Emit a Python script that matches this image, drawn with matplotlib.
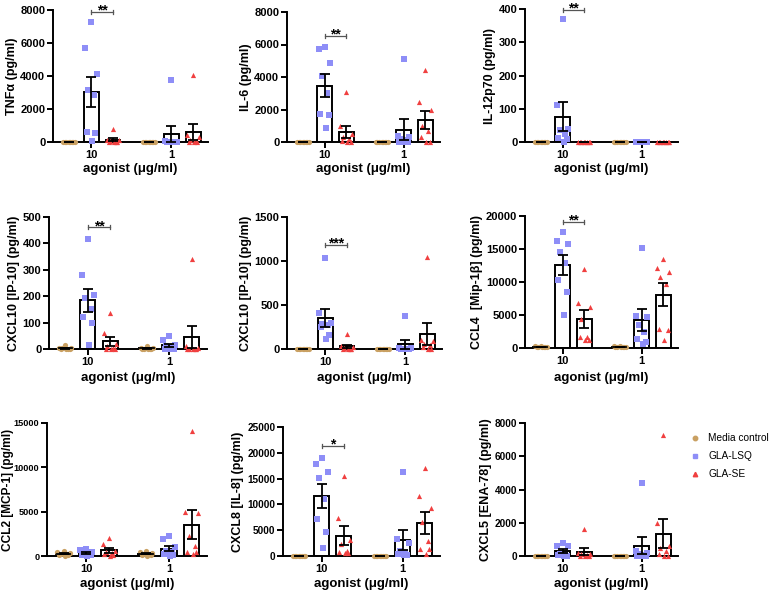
import numpy as np
import matplotlib
matplotlib.use("Agg")
import matplotlib.pyplot as plt

plt.rcParams['font.family'] = ['Liberation Sans', 'DejaVu Sans']

groups = ["Media control", "GLA-LSQ", "GLA-SE"]
doses = ["10", "1"]
colors = ["#C9A062", "#8E8EF7", "#F04040"]
markers = ["o", "s", "^"]

# values per panel: [media10, lsq10, se10, media1, lsq1, se1]
z8 = [0, 0, 0, 0, 0, 0, 0, 0]
tnfa = [z8,
        [7290, 5670, 4150, 3180, 2835, 610, 550, 40],
        [805, 150, 100, 50, 30, 0, 0, 0],
        z8,
        [3750, 50, 30, 0, 0, 0, 0, 0],
        [4050, 400, 300, 100, 50, 0, 0, 0]]
il6 = [z8,
       [5840, 5740, 4880, 4070, 3000, 1720, 1680, 840],
       [3080, 1000, 500, 300, 200, 50, 0, 0],
       z8,
       [5120, 400, 300, 200, 100, 0, 0, 0],
       [4430, 2480, 1950, 1000, 650, 300, 0, 0]]
il12 = [z8,
        [370, 112, 40, 35, 25, 12, 10, 0],
        z8, z8, z8, z8]
ip10a = [[15, 5, 3, 2, 0, 0, 0, 0],
         [415, 280, 205, 195, 150, 120, 100, 15],
         [135, 62, 20, 10, 5, 0, 0, 0],
         [12, 5, 3, 0, 0, 0, 0, 0],
         [50, 33, 15, 10, 5, 0, 0, 0],
         [340, 10, 5, 0, 0, 0, 0, 0]]
ip10b = [z8,
         [1030, 410, 300, 280, 270, 250, 160, 110],
         [175, 30, 20, 10, 5, 0, 0, 0],
         z8,
         [380, 15, 10, 5, 0, 0, 0, 0],
         [1050, 100, 90, 60, 40, 20, 0, 0]]
ccl4 = [[300, 250, 200, 200, 150, 150, 100, 100],
        [17590, 16180, 15730, 14620, 12810, 10300, 8440, 5030],
        [11900, 6780, 6280, 4420, 1710, 1710, 1210, 1210],
        [300, 250, 200, 200, 150, 150, 100, 100],
        [15170, 4920, 4770, 3520, 2500, 1400, 850, 650],
        [13420, 12110, 11560, 10750, 9650, 2910, 2660, 1260]]
ccl2 = [[600, 400, 300, 250, 200, 150, 100, 50],
        [800, 700, 500, 300, 200, 150, 100, 50],
        [2050, 1300, 600, 400, 300, 200, 100, 50],
        [600, 400, 300, 250, 200, 150, 100, 50],
        [2300, 1900, 1000, 600, 400, 200, 100, 50],
        [14100, 5000, 4800, 2300, 1100, 500, 400, 200]]
cxcl8 = [z8,
         [19000, 17800, 16200, 15100, 11000, 7200, 4700, 1500],
         [15600, 7400, 3100, 2300, 1000, 800, 600, 500],
         z8,
         [16300, 3300, 2600, 1000, 500, 300, 200, 100],
         [17100, 11700, 9300, 6500, 3000, 1400, 1300, 300]]
cxcl5 = [z8,
         [800, 620, 580, 150, 80, 50, 20, 0],
         [1600, 200, 150, 100, 50, 0, 0, 0],
         z8,
         [4400, 300, 200, 100, 50, 0, 0, 0],
         [7300, 2000, 600, 500, 300, 100, 0, 0]]

labels = ["TNF\u03b1 (pg/ml)", "IL-6 (pg/ml)", "IL-12p70 (pg/ml)",
          "CXCL10 [IP-10] (pg/ml)", "CXCL10 [IP-10] (pg/ml)", "CCL4  [Mip-1\u03b2] (pg/ml)",
          "CCL2 [MCP-1] (pg/ml)", "CXCL8 [IL-8] (pg/ml)", "CXCL5 [ENA-78] (pg/ml)"]
data = [tnfa, il6, il12, ip10a, ip10b, ccl4, ccl2, cxcl8, cxcl5]
ymax = [8000, 8000, 400, 500, 1500, 20000, 15000, 25000, 8000]
ystep = [2000, 2000, 100, 100, 500, 5000, 5000, 5000, 2000]
# significance: (stars, bracket height)
sig = [("**", 7880), ("**", 6520), ("**", 397), ("**", 461), ("***", 1180),
       ("**", 19100), None, ("*", 21300), None]

# axes boxes in pixels: x0, x1, ytop, ybottom
boxes = [(53, 208, 10, 142), (287, 440, 12, 142), (525, 678, 9, 142),
         (49, 207, 217, 349), (287, 442, 217, 349), (525, 678, 216, 348),
         (47, 207, 423, 556), (283, 440, 427, 556), (525, 678, 423, 556)]
xlab_y = [169, 169, 169, 378, 378, 378, 584, 584, 584]
tick_fs = [8, 8, 8, 8, 8, 8, 6.6, 7.2, 7.2]
ylab_fs = [9, 9, 9, 9, 9, 9, 8.6, 9, 9]

W, H = 775, 590
fig = plt.figure(figsize=(W / 100, H / 100), dpi=100)

pos = [0, 1, 2, 3.64, 4.64, 5.64]
jit = [0, -0.27, 0.27, -0.13, 0.13, -0.2, 0.2, 0.05]

for i, (vals, box) in enumerate(zip(data, boxes)):
    x0, x1, yt, yb = box
    ax = fig.add_axes([x0 / W, (H - yb) / H, (x1 - x0) / W, (yb - yt) / H])
    for j, v in enumerate(vals):
        v = np.array(v, dtype=float)
        g = j % 3
        m = v.mean()
        sem = v.std(ddof=1) / np.sqrt(len(v))
        ax.bar(pos[j], m, width=0.68, facecolor="white", edgecolor="black",
               linewidth=1.4, zorder=2)
        ax.scatter(pos[j] + np.array(jit[:len(v)]), v, s=14, marker=markers[g],
                   color=colors[g], linewidths=0, zorder=3, clip_on=False)
        ax.errorbar(pos[j], m, yerr=sem, fmt="none", ecolor="black",
                    elinewidth=1.3, capsize=3.5, capthick=1.3, zorder=4)
        if g == 0 and m > 0:
            ax.plot([pos[j] - 0.3, pos[j] + 0.3], [m, m], color="black", lw=1.3, zorder=4)
    ax.set_xlim(-0.73, 6.32)
    ax.set_ylim(0, ymax[i])
    ax.set_yticks(np.arange(0, ymax[i] + 1, ystep[i]))
    ax.set_xticks([pos[1], pos[4]])
    ax.set_xticklabels(doses)
    for s in ["top", "right"]:
        ax.spines[s].set_visible(False)
    for s in ["left", "bottom"]:
        ax.spines[s].set_linewidth(1.4)
    ax.tick_params(width=1.4, length=4, pad=1.5)
    ax.tick_params(axis="y", labelsize=tick_fs[i])
    ax.tick_params(axis="x", labelsize=8)
    for t in ax.get_xticklabels() + ax.get_yticklabels():
        t.set_fontweight("bold")
    ax.set_ylabel(labels[i], fontsize=ylab_fs[i], fontweight="bold", labelpad=2)
    if i == 6:
        ax.yaxis.label.set_verticalalignment("center")
        ax.yaxis.set_label_coords((8 - x0) / (x1 - x0), 0.5)
    ax.set_xlabel("agonist (\u03bcg/ml)", fontsize=9.5, fontweight="bold")
    ax.xaxis.label.set_verticalalignment("center")
    ax.xaxis.set_label_coords(0.5, -(xlab_y[i] - yb) / (yb - yt))
    if sig[i]:
        stars, h = sig[i]
        ax.plot([pos[1], pos[2]], [h, h], color="#555555", lw=0.9, clip_on=False, zorder=5)
        for xx in (pos[1], pos[2]):
            ax.plot([xx, xx], [h - ymax[i] * 0.015, h + ymax[i] * 0.015], color="#555555",
                    lw=0.9, clip_on=False, zorder=5)
        ax.annotate(stars, xy=((pos[1] + pos[2]) / 2, h), xytext=(0, -2),
                    textcoords="offset points", ha="center", va="baseline",
                    fontsize=10, fontweight="bold", annotation_clip=False)

# legend
handles = [plt.Line2D([], [], ls="none", marker=markers[k], color=colors[k], ms=3.2)
           for k in range(3)]
fig.legend(handles, groups, loc="upper left", bbox_to_anchor=(680 / W, 1 - 424 / H),
           frameon=False, fontsize=7.3, handletextpad=0.7, labelspacing=0.8,
           handlelength=1.2)

fig.savefig("out.png", dpi=100)
